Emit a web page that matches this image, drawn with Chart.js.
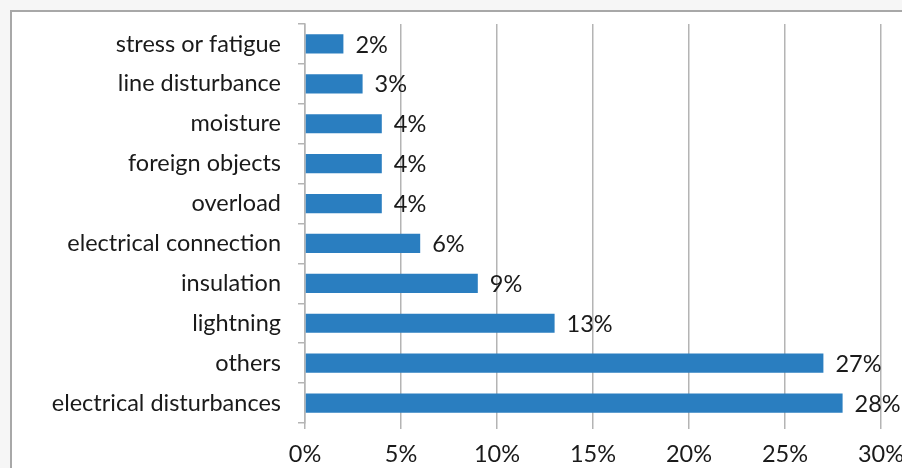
<!DOCTYPE html>
<html>
<head>
<meta charset="utf-8">
<script src="https://cdn.jsdelivr.net/npm/chart.js@4/dist/chart.umd.min.js"></script>
<style>
  html, body { margin: 0; padding: 0; background: #f6f6f6; }
  #wrap { position: relative; width: 902px; height: 468px; }
</style>
</head>
<body>
<div id="wrap"><canvas id="c" width="902" height="468"></canvas></div>
<script>
const categories = [
  "stress or fatigue",
  "line disturbance",
  "moisture",
  "foreign objects",
  "overload",
  "electrical connection",
  "insulation",
  "lightning",
  "others",
  "electrical disturbances"
];
const shares = [2, 3, 4, 4, 4, 6, 9, 13, 27, 28];
const xTicks = [0, 5, 10, 15, 20, 25, 30];

const FONT = "Lato, 'Open Sans', sans-serif";
const FSIZE = 23.5;
const TEXT = "#1a1a1a";

const framePlugin = {
  id: 'frame',
  beforeDraw(chart) {
    const ctx = chart.ctx;
    ctx.save();
    ctx.fillStyle = '#f6f6f6';
    ctx.fillRect(0, 0, chart.width, chart.height);
    ctx.fillStyle = '#ffffff';
    ctx.fillRect(11, 11, chart.width - 11, chart.height - 11);
    ctx.strokeStyle = '#a8a8a8';
    ctx.lineWidth = 2;
    ctx.beginPath();
    ctx.moveTo(11, chart.height);
    ctx.lineTo(11, 11);
    ctx.lineTo(chart.width, 11);
    ctx.stroke();
    ctx.restore();
  }
};

const labelPlugin = {
  id: 'valueLabels',
  afterDatasetsDraw(chart) {
    const ctx = chart.ctx;
    const meta = chart.getDatasetMeta(0);
    ctx.save();
    ctx.font = FSIZE + "px " + FONT;
    ctx.fillStyle = TEXT;
    ctx.textAlign = 'left';
    ctx.textBaseline = 'middle';
    meta.data.forEach((bar, i) => {
      ctx.fillText(shares[i] + '%', bar.x + 12, bar.y + 1);
    });
    ctx.restore();
  }
};

new Chart(document.getElementById('c'), {
  type: 'bar',
  data: {
    labels: categories,
    datasets: [{
      data: shares,
      backgroundColor: '#2a7ec0',
      borderWidth: 0,
      categoryPercentage: 1,
      barPercentage: 0.48
    }]
  },
  options: {
    indexAxis: 'y',
    responsive: false,
    animation: false,
    devicePixelRatio: 1,
    layout: { padding: { top: 24, right: 21, left: 0, bottom: 0 } },
    plugins: { legend: { display: false }, tooltip: { enabled: false } },
    scales: {
      x: {
        min: 0, max: 30,
        afterBuildTicks(scale) { scale.ticks = xTicks.map(v => ({ value: v })); },
        afterFit(scale) {
          scale.height = 45;
          scale.paddingLeft = 0; scale.paddingRight = 0;
          scale.paddingTop = 0; scale.paddingBottom = 0;
        },
        border: { display: false },
        grid: { color: '#b4b4b4', lineWidth: 1.5, tickLength: 6, drawTicks: true },
        ticks: {
          callback: v => v + '%',
          color: TEXT,
          font: { family: FONT, size: FSIZE },
          padding: 11,
          maxRotation: 0
        }
      },
      y: {
        afterFit(scale) {
          scale.width = 305;
          scale.paddingLeft = 0; scale.paddingRight = 0;
          scale.paddingTop = 0; scale.paddingBottom = 0;
        },
        border: { display: true, color: '#b4b4b4', width: 1.5 },
        grid: { drawOnChartArea: false, color: '#b4b4b4', lineWidth: 1.5, tickLength: 7, offset: true },
        ticks: {
          color: TEXT,
          font: { family: FONT, size: FSIZE },
          padding: 17
        }
      }
    }
  },
  plugins: [framePlugin, labelPlugin]
});
</script>
</body>
</html>
